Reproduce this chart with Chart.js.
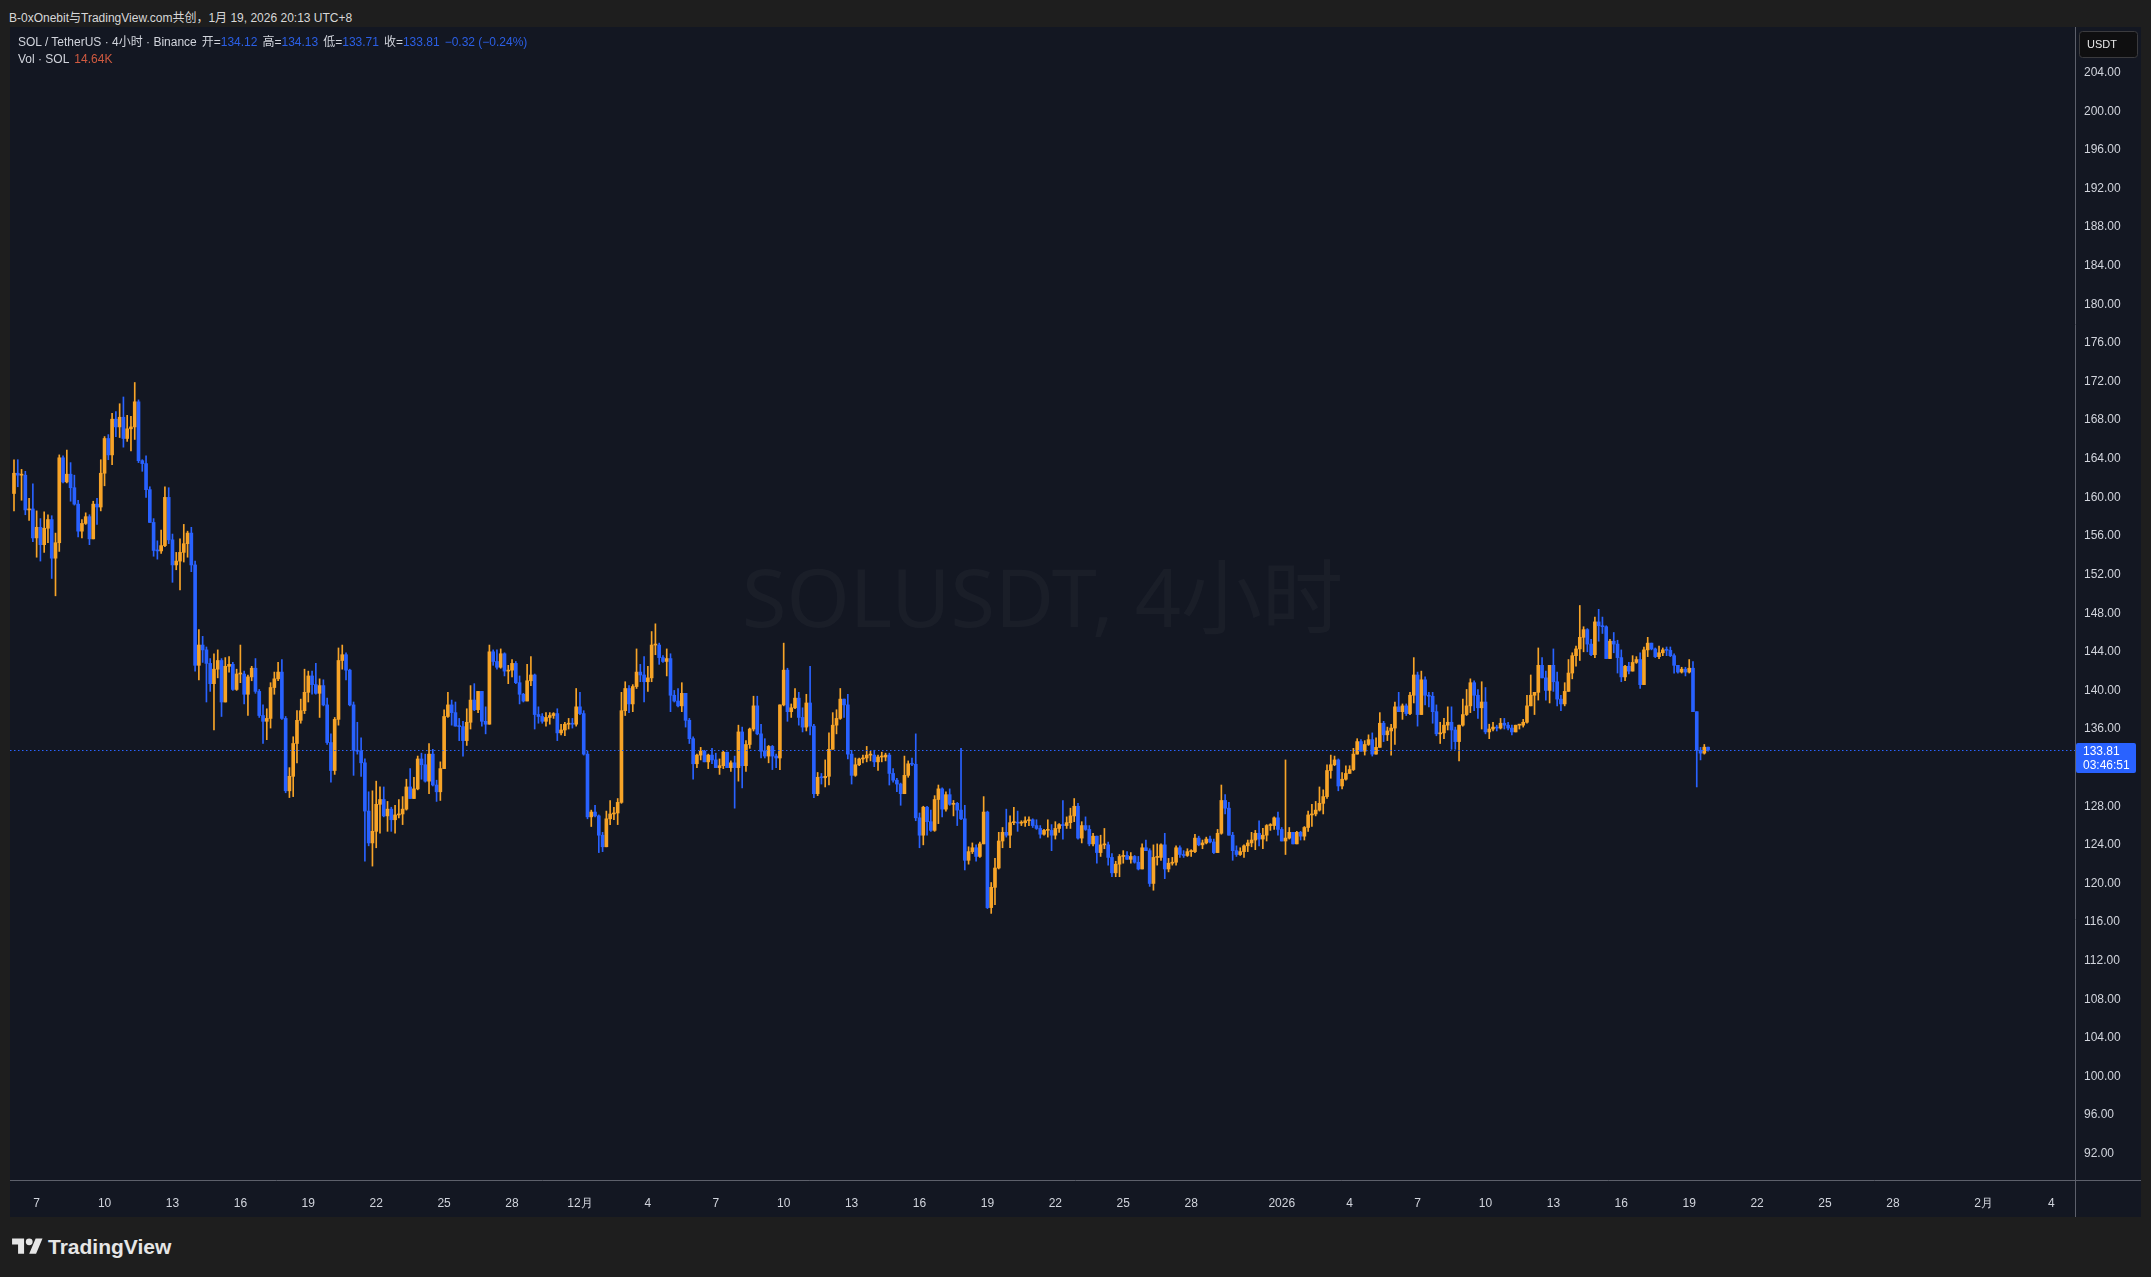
<!DOCTYPE html>
<html>
<head>
<meta charset="utf-8">
<script src="https://cdn.jsdelivr.net/npm/chart.js@4.4.1/dist/chart.umd.min.js"></script>
<style>
html, body { margin:0; padding:0; width:2151px; height:1277px; overflow:hidden; background:#1e1e1e;
  font-family:"Liberation Sans","Noto Sans CJK SC",sans-serif; }
#hdr { position:absolute; left:9px; top:8px; font-size:12px; color:#d8d8d8; white-space:nowrap; }
#frame { position:absolute; left:10px; top:27px; width:2131px; height:1190px; background:#131722; }
#c { position:absolute; left:0; top:0; }
#legend { position:absolute; left:8px; top:7px; font-size:12px; line-height:17px; color:#d1d4dc; white-space:nowrap; }
#legend .v { color:#2b5fe6; }
#legend .k { margin-left:5px; }
#legend .vol { color:#cf5a40; margin-left:5px; }
#foot { position:absolute; left:12px; top:1235px; display:flex; align-items:center; color:#e6e6e6;
  font:bold 21px "Liberation Sans",sans-serif; }
#foot svg { margin-right:5px; }
</style>
</head>
<body>
<div id="hdr">B-0xOnebit与TradingView.com共创，1月 19, 2026 20:13 UTC+8</div>
<div id="frame">
  <canvas id="c" width="2131" height="1190" style="width:2131px;height:1190px"></canvas>
  <div id="legend">
    <div>SOL / TetherUS · 4小时 · Binance<span class="k">开=</span><span class="v">134.12</span><span class="k">高=</span><span class="v">134.13</span><span class="k">低=</span><span class="v">133.71</span><span class="k">收=</span><span class="v">133.81</span><span class="v" style="margin-left:5px">−0.32 (−0.24%)</span></div>
    <div>Vol · SOL<span class="vol">14.64K</span></div>
  </div>
</div>
<div id="foot">
  <svg width="31" height="24" viewBox="0 0 36 28"><path d="M14 22H7V11H0V4h14v18zM28 22h-8l7.5-18h8L28 22z" fill="#e6e6e6"/><circle cx="20" cy="8" r="4" fill="#e6e6e6"/></svg>
  TradingView
</div>
<script>
// SOL/USDT 4h candles, Nov 6 00:00 -> Jan 19 20:00 (UTC+8), one entry per bar
const firstOpen = 160.4;
const closes = [
  162.5,162.3,162.3,158.7,158.8,155.8,156.9,155.1,156.8,157.7,
  153.7,155.3,164.1,161.6,162.4,161.0,159.3,156.5,157.3,158.0,
  155.7,159.3,159.0,162.5,166.1,164.4,168.1,167.3,168.3,166.1,
  167.1,167.3,169.9,163.8,163.5,160.8,157.4,154.5,154.45,155.0,
  160.0,155.6,153.0,153.4,154.3,155.2,156.3,153.0,142.6,144.7,
  144.2,142.8,140.7,142.2,143.1,138.8,142.5,142.7,140.1,141.7,
  141.7,139.6,141.4,142.3,139.9,137.4,136.8,137.1,140.3,141.2,
  141.9,137.1,129.6,131.1,134.5,136.9,137.9,139.8,141.5,140.6,
  139.7,140.5,138.5,134.6,131.7,137.0,143.1,143.7,142.1,138.5,
  133.8,133.7,132.5,127.5,124.2,125.4,128.2,128.7,127.0,127.7,
  126.6,127.1,127.2,127.7,130.0,128.8,129.8,132.9,132.3,130.6,
  133.4,130.2,129.5,131.9,137.3,138.5,137.7,136.3,136.25,134.8,
  136.7,139.0,138.0,139.9,136.8,136.5,144.0,143.0,142.4,143.8,
  142.0,142.1,142.8,140.8,139.6,138.9,141.0,141.6,137.5,137.3,
  136.8,137.2,137.4,137.6,135.6,135.9,136.5,136.6,136.5,138.3,
  137.6,133.4,126.9,127.4,127.0,125.0,123.8,126.7,127.2,127.3,
  128.4,137.9,140.2,138.6,140.4,141.9,141.6,140.9,141.3,144.7,
  144.7,143.4,143.0,143.3,139.5,138.9,138.4,139.7,136.9,135.0,
  132.4,133.3,133.7,132.6,133.3,132.8,132.0,132.2,133.6,132.0,
  132.5,132.0,135.7,132.2,134.4,136.0,138.4,135.5,133.7,133.2,
  134.2,133.2,133.0,138.5,142.1,137.8,138.2,139.2,137.2,136.2,
  138.7,136.3,129.3,131.0,130.95,131.1,133.9,136.4,137.1,139.1,
  138.5,133.4,131.2,132.3,132.9,133.0,133.3,133.3,132.6,133.1,
  133.1,133.3,131.4,130.7,130.3,129.3,131.2,132.4,132.35,126.8,
  125.0,127.9,126.4,125.5,128.7,129.8,127.7,129.2,128.2,128.3,
  127.6,126.7,122.4,123.3,123.7,122.8,124.1,127.4,117.5,119.6,
  121.6,124.4,125.3,125.0,126.3,126.3,126.25,126.3,126.5,126.6,
  126.0,125.7,125.1,125.5,125.5,125.0,125.7,126.1,126.0,126.3,
  127.0,128.0,124.7,126.0,125.6,124.1,124.9,123.2,124.0,124.0,
  122.7,121.1,122.0,122.8,122.9,122.5,122.8,122.2,121.5,123.7,
  123.4,120.0,122.7,122.7,124.0,121.5,122.1,122.2,123.7,123.0,
  122.9,123.3,123.3,124.7,124.0,124.2,124.6,124.3,123.2,125.2,
  128.6,127.8,125.0,123.4,123.0,123.3,123.9,124.2,124.5,125.2,
  124.6,125.0,126.0,126.0,126.8,125.6,124.4,124.7,125.3,124.1,
  125.3,124.9,125.8,127.1,127.2,127.6,128.3,129.0,131.7,132.3,
  132.8,130.1,130.8,131.4,131.8,133.4,134.7,133.7,134.4,134.9,
  133.4,134.1,136.6,135.4,135.8,136.1,138.3,137.8,138.4,137.6,
  139.5,141.6,137.5,141.1,139.5,139.4,137.8,135.5,135.6,136.4,
  136.7,135.9,134.7,136.4,137.5,138.4,140.8,139.5,138.2,138.8,
  135.7,136.0,136.2,136.1,136.6,136.4,136.1,135.7,136.4,136.4,
  136.7,138.4,139.5,139.8,142.6,141.3,140.0,142.6,140.9,139.1,
  138.6,139.9,141.8,143.6,144.3,145.5,146.3,144.8,143.7,147.1,
  146.7,146.6,143.3,145.1,144.8,143.4,141.4,142.5,142.0,142.9,
  143.2,140.6,144.2,144.9,144.3,143.5,143.9,144.2,144.15,143.6,
  142.6,141.9,142.2,141.9,142.3,137.8,133.8,133.5,134.12,133.81
];
const highs = [
  163.9,163.9,162.9,162.7,159.9,161.4,158.6,157.8,158.5,158.2,
  158.1,156.3,164.4,164.3,164.9,163.6,162.3,159.7,157.7,158.4,
  158.2,159.6,159.9,163.9,166.3,166.5,168.7,168.9,169.7,170.4,
  168.5,168.4,171.9,170.1,163.9,164.3,161.1,157.8,155.5,156.6,
  161.1,161.0,156.2,154.3,155.7,157.2,156.5,156.9,153.4,146.3,
  145.6,144.5,143.3,143.8,144.2,143.3,143.4,143.5,142.9,142.2,
  144.7,142.0,141.6,142.5,143.3,140.1,138.5,138.1,140.8,141.9,
  142.9,143.2,137.3,132.0,135.2,137.9,139.1,142.2,142.0,142.0,
  142.8,141.2,141.1,139.2,135.5,137.2,144.4,144.7,143.9,142.2,
  138.8,136.7,135.1,132.9,129.5,129.6,130.6,130.0,130.0,128.5,
  127.9,128.1,128.7,129.0,130.8,131.9,131.0,133.2,133.5,133.4,
  134.5,133.9,130.7,132.6,138.0,139.8,139.0,138.8,137.1,136.8,
  138.1,140.5,140.7,139.9,139.9,138.3,144.7,144.2,144.2,144.3,
  143.9,142.6,143.2,143.0,141.5,139.7,142.7,143.5,141.7,138.3,
  137.6,137.7,137.7,137.7,138.1,136.5,136.7,137.1,137.1,140.2,
  139.8,137.9,133.7,127.6,128.1,127.1,125.3,127.5,128.6,127.9,
  128.8,139.8,140.9,140.5,140.6,144.3,142.7,143.5,142.5,146.1,
  146.9,144.9,143.6,144.3,143.8,140.0,140.2,140.8,139.6,137.1,
  135.2,133.4,134.1,133.8,133.4,134.0,133.5,132.9,133.7,133.6,
  132.7,133.2,136.4,136.2,134.8,136.1,139.4,139.4,136.5,135.0,
  134.3,134.3,133.4,138.5,144.9,142.3,138.6,140.2,139.8,138.2,
  139.6,142.5,136.5,131.5,131.4,132.8,135.6,137.7,138.0,140.2,
  139.1,139.6,133.8,133.0,133.0,133.3,134.2,133.7,133.8,133.3,
  133.6,133.5,133.5,131.9,130.9,130.4,133.2,132.7,133.0,135.5,
  127.3,128.0,128.0,127.6,129.1,130.2,129.9,129.5,129.8,128.6,
  128.4,134.0,128.1,123.8,124.2,124.0,124.3,129.0,127.5,120.1,
  122.6,125.3,125.8,127.7,127.0,127.9,127.5,126.5,126.9,126.9,
  126.7,126.6,126.0,125.6,126.6,126.1,126.4,126.2,128.6,126.9,
  127.8,128.8,128.3,126.4,126.9,126.0,125.2,124.9,125.0,125.7,
  124.3,123.1,122.3,123.0,123.4,123.3,123.2,122.9,122.8,124.1,
  124.5,123.6,124.0,124.1,124.1,125.2,122.6,122.7,123.9,123.9,
  123.4,123.6,123.5,125.1,124.9,124.5,124.8,124.9,124.6,125.6,
  130.2,129.2,128.4,125.3,123.9,123.7,124.0,124.5,125.3,125.5,
  126.5,125.7,126.1,126.2,126.9,127.4,125.8,132.8,125.8,125.3,
  125.4,125.4,125.9,127.5,128.2,128.5,130.0,129.7,132.3,133.3,
  133.2,132.9,131.5,132.2,132.2,134.0,135.0,134.9,134.8,135.4,
  135.6,135.1,137.7,136.8,136.2,136.5,138.8,139.8,138.6,138.6,
  139.8,143.4,141.9,142.0,141.4,139.8,139.8,138.5,136.7,137.1,
  138.3,138.3,136.2,136.4,139.1,140.1,141.2,141.0,140.1,140.9,
  140.3,136.5,136.7,136.4,137.1,137.1,136.7,136.4,136.4,136.5,
  137.0,139.5,141.6,139.8,144.4,143.4,142.0,142.6,144.3,141.9,
  139.5,140.8,143.2,143.9,144.6,148.8,146.6,146.4,145.3,147.6,
  148.4,147.6,146.7,145.3,146.0,145.2,144.2,142.6,142.9,143.6,
  143.5,143.9,144.5,145.5,144.9,144.4,144.6,144.4,144.5,144.5,
  143.8,142.1,142.4,142.4,143.2,143.0,137.8,134.1,134.4,134.13
];
const lows = [
  158.6,161.1,159.7,158.2,157.6,155.4,153.8,153.4,154.3,155.3,
  151.6,149.8,154.4,161.5,161.5,159.6,159.2,155.9,155.8,157.2,
  155.1,155.7,157.2,158.6,161.2,163.9,163.4,166.3,166.2,165.2,
  165.8,164.8,166.0,163.6,162.7,160.0,157.4,153.9,153.6,154.2,
  154.9,155.2,151.2,152.5,150.4,153.3,153.8,152.3,142.0,141.1,
  142.9,138.8,139.9,135.9,141.3,137.3,138.8,141.9,140.0,140.0,
  140.8,138.6,137.4,141.0,139.7,137.2,134.5,134.9,136.1,139.6,
  141.0,137.0,129.4,128.9,129.0,132.5,136.6,137.6,138.8,139.6,
  139.6,137.2,138.4,134.4,130.5,131.3,136.4,142.2,141.1,138.4,
  131.2,133.4,131.1,122.3,123.9,121.8,123.7,125.2,126.9,125.4,
  125.4,125.2,126.8,126.1,127.6,128.8,128.8,129.7,130.8,130.5,
  129.3,130.1,128.5,128.6,131.9,137.2,136.4,136.3,134.8,133.2,
  134.3,136.0,137.9,137.7,136.3,135.5,136.5,142.6,142.2,142.3,
  141.5,140.7,141.4,140.7,138.6,138.8,138.9,140.5,136.0,136.6,
  136.6,136.3,136.5,137.1,134.8,135.4,135.3,136.0,136.1,136.3,
  137.5,133.3,126.7,125.9,126.9,123.2,123.3,123.8,126.1,126.6,
  126.1,128.3,137.4,137.7,137.8,140.2,140.9,138.8,139.9,140.9,
  143.7,142.7,142.9,141.5,137.8,138.8,138.3,137.8,136.2,134.5,
  130.8,132.0,132.8,132.6,131.9,132.4,132.0,131.3,131.9,132.0,
  131.6,127.8,130.6,129.9,131.6,134.0,135.8,135.4,133.0,133.0,
  132.5,131.8,132.0,131.8,138.4,136.8,137.2,138.1,136.4,135.7,
  135.8,135.4,128.9,129.1,130.3,130.0,130.2,133.9,135.5,137.0,
  137.2,132.9,130.3,131.1,132.2,132.5,132.6,132.7,132.1,131.7,
  132.6,132.7,130.2,130.5,129.5,128.1,129.3,131.0,132.2,126.5,
  123.7,124.0,125.0,125.4,125.4,126.2,126.9,127.5,128.1,127.0,
  126.0,126.6,121.4,122.0,123.1,122.3,122.7,124.1,117.4,116.9,
  117.8,121.5,123.7,124.8,123.7,126.1,125.4,126.0,125.9,126.0,
  125.8,125.6,124.7,125.0,124.8,123.4,124.6,125.3,124.6,125.7,
  125.7,126.4,124.6,124.2,125.5,123.9,123.9,122.1,122.8,123.6,
  121.9,120.7,120.7,120.7,122.1,122.5,122.1,122.1,121.4,121.5,
  123.4,119.7,119.3,121.9,122.4,120.5,121.2,121.9,121.9,122.7,
  122.7,122.8,122.8,123.2,123.9,123.6,124.1,124.2,123.1,123.2,
  125.1,127.2,125.0,122.4,122.8,122.9,122.7,123.3,123.8,123.5,
  123.9,123.6,124.4,125.5,125.6,125.0,124.4,123.0,124.6,124.1,
  124.1,124.5,124.5,125.4,125.9,127.0,127.5,127.2,128.8,130.9,
  132.2,129.6,129.8,130.7,131.4,131.7,133.4,133.7,133.3,134.3,
  133.2,133.4,134.1,134.7,134.8,133.3,134.4,137.8,137.0,137.4,
  137.5,138.7,136.3,137.5,138.5,138.3,136.6,135.3,134.5,135.0,
  135.9,133.9,133.9,132.7,136.3,137.4,137.7,137.9,137.1,136.0,
  135.5,135.0,135.8,135.8,136.0,136.0,135.9,135.4,135.8,136.0,
  136.2,136.6,138.4,137.5,139.0,141.3,139.0,138.7,139.9,138.4,
  137.9,138.4,139.9,141.2,142.5,143.1,144.0,144.0,143.6,143.4,
  145.1,145.9,143.3,143.3,143.9,141.8,140.9,141.0,141.7,142.0,
  142.8,140.2,140.6,143.5,144.2,143.4,143.3,143.6,143.6,143.5,
  141.8,141.8,141.8,141.5,141.8,137.8,130.0,132.8,133.4,133.71
];
// crypto 4h bars open at the previous bar's close
const opens = closes.map((c, i) => i === 0 ? firstOpen : closes[i - 1]);

// time axis: bar index of each labelled day, and its label
const xTickIndex = [6,24,42,60,78,96,114,132,150,168,186,204,222,240,258,276,294,312,336,354,372,390,408,426,444,462,480,498,522,540];
const xTickLabels = ['7','10','13','16','19','22','25','28','12月','4','7','10','13','16','19','22','25','28','2026','4','7','10','13','16','19','22','25','28','2月','4'];
const yTicks = [92,96,100,104,108,112,116,120,124,128,132,136,140,144,148,152,156,160,164,168,172,176,180,184,188,192,196,200,204];

const watermark = 'SOLUSDT, 4小时';
const countdown = '03:46:51';
const UP = '#f7a428', DOWN = '#2962ff';

const colors = closes.map((c, i) => c >= opens[i] ? UP : DOWN);
const wicks = closes.map((c, i) => ({ x: i, y: [Math.min(lows[i], opens[i], c), Math.max(highs[i], opens[i], c)] }));
const bodies = closes.map((c, i) => ({ x: i, y: [opens[i], c] }));

const decor = {
  id: 'decor',
  beforeDatasetsDraw(chart) {
    const { ctx, chartArea: a } = chart;
    ctx.save();
    ctx.font = '81px "Noto Sans", "Noto Sans CJK SC", sans-serif';
    ctx.fillStyle = 'rgba(255,255,255,0.032)';
    ctx.textAlign = 'center';
    ctx.textBaseline = 'middle';
    ctx.fillText(watermark, (a.left + a.right) / 2, (a.top + a.bottom) / 2);
    ctx.restore();
  },
  afterDraw(chart) {
    const { ctx, chartArea: a, width, height } = chart;
    const ys = chart.scales.y;
    const R = Math.round(a.right) + 0.5, B = Math.round(a.bottom) + 0.5;
    ctx.save();
    ctx.strokeStyle = '#5d606b';
    ctx.lineWidth = 1;
    ctx.beginPath();
    ctx.moveTo(R, 0); ctx.lineTo(R, height);
    ctx.moveTo(0, B); ctx.lineTo(width, B);
    ctx.stroke();

    // last price line + label
    const last = closes[closes.length - 1];
    const py = Math.round(ys.getPixelForValue(last)) + 0.5;
    ctx.strokeStyle = '#2962ff';
    ctx.setLineDash([1.5, 2.5]);
    ctx.beginPath(); ctx.moveTo(a.left, py); ctx.lineTo(a.right, py); ctx.stroke();
    ctx.setLineDash([]);
    ctx.fillStyle = '#2962ff';
    ctx.beginPath(); ctx.roundRect(a.right + 1, py - 7.5, 60, 30, 2); ctx.fill();
    ctx.fillStyle = '#ffffff';
    ctx.font = '12px "Liberation Sans", sans-serif';
    ctx.textAlign = 'left';
    ctx.textBaseline = 'middle';
    ctx.fillText(last.toFixed(2), a.right + 8, py + 1.5);
    ctx.fillText(countdown, a.right + 8, py + 15.5);

    // currency box
    ctx.fillStyle = '#0f0f10';
    ctx.strokeStyle = '#3b3b3e';
    ctx.beginPath(); ctx.roundRect(a.right + 4.5, 4.5, 58, 26, 3); ctx.fill(); ctx.stroke();
    ctx.fillStyle = '#e8e8e8';
    ctx.font = '11px "Liberation Sans", sans-serif';
    ctx.fillText('USDT', a.right + 12, 18);
    ctx.restore();
  }
};

new Chart(document.getElementById('c'), {
  type: 'bar',
  data: {
    datasets: [
      { data: wicks, backgroundColor: colors, barThickness: 1, grouped: false, borderWidth: 0 },
      { data: bodies, backgroundColor: colors, barThickness: 3, minBarLength: 1, grouped: false, borderWidth: 0 }
    ]
  },
  options: {
    responsive: false,
    animation: false,
    events: [],
    layout: { padding: 0, autoPadding: false },
    plugins: { legend: { display: false }, tooltip: { enabled: false } },
    scales: {
      x: {
        type: 'linear', min: -1.06, max: 546.25, offset: false,
        grid: { display: false, drawTicks: false }, border: { display: false },
        afterFit: s => { s.height = 37; s.paddingLeft = 0; s.paddingRight = 0; },
        afterBuildTicks: s => { s.ticks = xTickIndex.map(v => ({ value: v })); },
        ticks: {
          autoSkip: false, maxRotation: 0, minRotation: 0, padding: 16,
          color: '#d1d4dc', font: { family: 'Liberation Sans', size: 12 },
          callback: (v, i) => xTickLabels[i]
        }
      },
      y: {
        type: 'linear', position: 'right', min: 89.28, max: 208.73,
        grid: { display: false, drawTicks: false }, border: { display: false },
        afterFit: s => { s.width = 66; s.paddingTop = 0; s.paddingBottom = 0; },
        afterBuildTicks: s => { s.ticks = yTicks.map(v => ({ value: v })); },
        ticks: {
          padding: 9, crossAlign: 'near',
          color: '#d1d4dc', font: { family: 'Liberation Sans', size: 12 },
          callback: v => v.toFixed(2)
        }
      }
    }
  },
  plugins: [decor]
});
</script>
</body>
</html>
